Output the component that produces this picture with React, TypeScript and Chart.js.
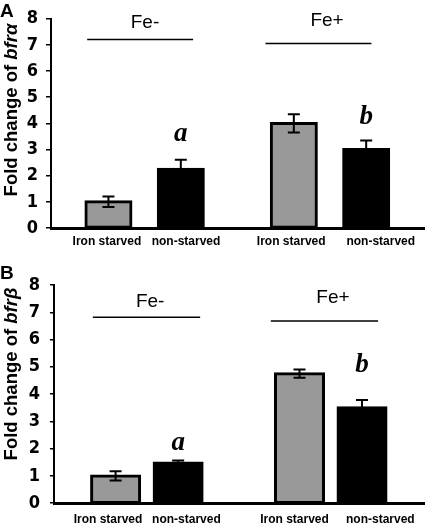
import React, { useEffect, useRef } from 'react';
import { Chart, registerables } from 'chart.js';

Chart.register(...registerables);

// ---------- data ----------
const groups = ['Fe-', 'Fe+'];
const conditions = ['Iron starved', 'non-starved'];
const yTickValues = [0, 1, 2, 3, 4, 5, 6, 7, 8];

// Panel A: bfrα
const alphaIronStarved = [1.0, 4.0];
const alphaNonStarved = [2.25, 3.0];
const alphaIronStarvedErr = [0.2, 0.35];
const alphaNonStarvedErr = [0.36, 0.35];
const alphaLetters = ['a', 'b'];

// Panel B: bfrβ
const betaIronStarved = [1.0, 4.75];
const betaNonStarved = [1.47, 3.5];
const betaIronStarvedErr = [0.17, 0.15];
const betaNonStarvedErr = [0.1, 0.28];
const betaLetters = ['a', 'b'];

// ---------- styles ----------
const GRAY = '#999999';
const BLACK = '#000000';
const SANS = '"Liberation Sans", Arial, sans-serif';
const NARROW = '"DejaVu Sans Condensed", "Liberation Sans Narrow", "Liberation Sans", Arial, sans-serif';
const SERIF = '"Liberation Serif", "Times New Roman", serif';

type PanelCfg = {
  letter: string;
  gene: string;
  iron: number[];
  non: number[];
  ironErr: number[];
  nonErr: number[];
  letters: string[];
  top: number;
  height: number;
  padTop: number;
  axisLeft: number;
  xAxisHeight: number;
  barThickness: number;
  groupCenters: number[];
  barOffset: number;
  labelCenters: number[];
  labelOffsets: number[];
  yTickPadding: number;
  yTickLength: number;
  xTickPadding: number;
  groupLabelY: number[];
  groupLineY: number[];
  groupLineX: number[];
  groupLineHalf: number;
  groupLabelX: number[];
  letterY: number[];
  titleY: number;
};

const panels: PanelCfg[] = [
  {
    letter: 'A',
    gene: 'bfrα',
    iron: alphaIronStarved,
    non: alphaNonStarved,
    ironErr: alphaIronStarvedErr,
    nonErr: alphaNonStarvedErr,
    letters: alphaLetters,
    top: 0,
    height: 262,
    padTop: 15,
    axisLeft: 51,
    xAxisHeight: 34,
    barThickness: 45,
    groupCenters: [2.51, 7.48],
    barOffset: 0.97,
    labelCenters: [2.56, 7.64],
    labelOffsets: [1.06, 1.2],
    yTickPadding: 8,
    yTickLength: 5,
    xTickPadding: 6,
    groupLabelY: [7.83, 7.91],
    groupLineY: [7.21, 7.06],
    groupLineX: [2.39, 7.17],
    groupLineHalf: 1.42,
    groupLabelX: [2.52, 7.4],
    letterY: [3.61, 4.25],
    titleY: 110,
  },
  {
    letter: 'B',
    gene: 'bfrβ',
    iron: betaIronStarved,
    non: betaNonStarved,
    ironErr: betaIronStarvedErr,
    nonErr: betaNonStarvedErr,
    letters: betaLetters,
    top: 262,
    height: 262,
    padTop: 23,
    axisLeft: 54,
    xAxisHeight: 20,
    barThickness: 48,
    groupCenters: [2.51, 7.48],
    barOffset: 0.845,
    labelCenters: [2.52, 7.66],
    labelOffsets: [1.06, 1.16],
    yTickPadding: 10,
    yTickLength: 4,
    xTickPadding: 9,
    groupLabelY: [7.37, 7.55],
    groupLineY: [6.82, 6.68],
    groupLineX: [2.5, 7.31],
    groupLineHalf: 1.45,
    groupLabelX: [2.6, 7.54],
    letterY: [2.22, 5.07],
    titleY: 112,
  },
];

const errorBarPlugin = {
  id: 'errorBars',
  afterDatasetsDraw(chart: any) {
    const ctx = chart.ctx;
    const yScale = chart.scales.y;
    chart.data.datasets.forEach((ds: any, di: number) => {
      const meta = chart.getDatasetMeta(di);
      meta.data.forEach((el: any, i: number) => {
        const v = ds.data[i].y;
        const e = ds.errors[i];
        const yTop = yScale.getPixelForValue(v + e);
        const yBot = yScale.getPixelForValue(v - e);
        const x = el.x;
        ctx.save();
        ctx.strokeStyle = BLACK;
        ctx.lineWidth = 2;
        ctx.beginPath();
        ctx.moveTo(x, yTop);
        ctx.lineTo(x, yBot);
        ctx.moveTo(x - 6, yTop);
        ctx.lineTo(x + 6, yTop);
        ctx.moveTo(x - 6, yBot);
        ctx.lineTo(x + 6, yBot);
        ctx.stroke();
        ctx.restore();
      });
    });
  },
};

const annotationPlugin = {
  id: 'panelAnnotations',
  afterDraw(chart: any, _args: any, opts: any) {
    const cfg: PanelCfg = opts.cfg;
    const ctx = chart.ctx;
    const xs = chart.scales.x;
    const ys = chart.scales.y;
    ctx.save();
    ctx.fillStyle = BLACK;
    ctx.strokeStyle = BLACK;

    // panel letter
    ctx.font = `bold 19px ${SANS}`;
    ctx.textAlign = 'left';
    ctx.textBaseline = 'middle';
    ctx.fillText(cfg.letter, 0, 12);

    // group labels and lines
    groups.forEach((g, gi) => {
      ctx.font = `19px ${SANS}`;
      ctx.textAlign = 'center';
      ctx.textBaseline = 'middle';
      ctx.fillText(g, xs.getPixelForValue(cfg.groupLabelX[gi]), ys.getPixelForValue(cfg.groupLabelY[gi]));
      ctx.lineWidth = 1.5;
      ctx.beginPath();
      const ly = ys.getPixelForValue(cfg.groupLineY[gi]);
      ctx.moveTo(xs.getPixelForValue(cfg.groupLineX[gi] - cfg.groupLineHalf), ly);
      ctx.lineTo(xs.getPixelForValue(cfg.groupLineX[gi] + cfg.groupLineHalf), ly);
      ctx.stroke();
    });

    // significance letters over non-starved bars
    const nonMeta = chart.getDatasetMeta(1);
    cfg.letters.forEach((l, gi) => {
      ctx.font = `italic bold 27px ${SERIF}`;
      ctx.textAlign = 'center';
      ctx.textBaseline = 'middle';
      ctx.fillText(l, nonMeta.data[gi].x, ys.getPixelForValue(cfg.letterY[gi]));
    });

    // y-axis title with italic gene name
    const main = 'Fold change of ';
    const size = 18.5;
    ctx.translate(12, cfg.titleY);
    ctx.rotate(-Math.PI / 2);
    ctx.textBaseline = 'middle';
    ctx.textAlign = 'left';
    ctx.font = `bold ${size}px ${SANS}`;
    const w1 = ctx.measureText(main).width;
    ctx.font = `italic bold ${size}px ${SANS}`;
    const w2 = ctx.measureText(cfg.gene).width;
    const start = -(w1 + w2) / 2;
    ctx.font = `bold ${size}px ${SANS}`;
    ctx.fillText(main, start, 0);
    ctx.font = `italic bold ${size}px ${SANS}`;
    ctx.fillText(cfg.gene, start + w1, 0);
    ctx.restore();
  },
};

function Panel({ cfg }: { cfg: PanelCfg }) {
  const ref = useRef<HTMLCanvasElement>(null);
  useEffect(() => {
    if (!ref.current) return;
    const posIron = cfg.groupCenters.map((c) => c - cfg.barOffset);
    const posNon = cfg.groupCenters.map((c) => c + cfg.barOffset);
    const tickPositions: number[] = [];
    const tickLabels: string[] = [];
    cfg.labelCenters.forEach((c, gi) => {
      tickPositions.push(c - cfg.labelOffsets[gi], c + cfg.labelOffsets[gi]);
      tickLabels.push(conditions[0], conditions[1]);
    });
    const chart = new Chart(ref.current, {
      type: 'bar',
      data: {
        datasets: [
          {
            label: conditions[0],
            data: cfg.iron.map((v, i) => ({ x: posIron[i], y: v })),
            errors: cfg.ironErr,
            backgroundColor: GRAY,
            borderColor: BLACK,
            borderWidth: 3,
            borderSkipped: false,
            inflateAmount: 1.5,
            barThickness: cfg.barThickness,
          } as any,
          {
            label: conditions[1],
            data: cfg.non.map((v, i) => ({ x: posNon[i], y: v })),
            errors: cfg.nonErr,
            backgroundColor: BLACK,
            borderColor: BLACK,
            borderWidth: 3,
            borderSkipped: false,
            inflateAmount: 1.5,
            barThickness: cfg.barThickness,
          } as any,
        ],
      },
      options: {
        responsive: false,
        animation: false,
        events: [],
        layout: { padding: { top: cfg.padTop, right: 1, left: 0, bottom: 0 } },
        datasets: { bar: { grouped: false } } as any,
        plugins: {
          legend: { display: false },
          tooltip: { enabled: false },
          panelAnnotations: { cfg },
        } as any,
        scales: {
          x: {
            type: 'linear',
            min: 0,
            max: 10,
            offset: false,
            grid: { display: false, drawTicks: false },
            border: { display: true, color: BLACK, width: 3 },
            afterBuildTicks: (s: any) => {
              s.ticks = tickPositions.map((v) => ({ value: v }));
            },
            afterFit: (s: any) => {
              s.height = cfg.xAxisHeight;
            },
            ticks: {
              autoSkip: false,
              maxRotation: 0,
              minRotation: 0,
              padding: cfg.xTickPadding,
              color: BLACK,
              font: { family: SANS, size: 12, weight: 'bold' },
              callback: (_v: any, i: number) => tickLabels[i],
            },
          } as any,
          y: {
            min: 0,
            max: 8,
            afterBuildTicks: (s: any) => {
              s.ticks = yTickValues.map((v) => ({ value: v }));
            },
            afterFit: (s: any) => {
              s.width = cfg.axisLeft;
            },
            grid: {
              display: true,
              drawOnChartArea: false,
              drawTicks: true,
              tickLength: cfg.yTickLength,
              color: BLACK,
              lineWidth: 1.5,
            },
            border: { display: true, color: BLACK, width: 2 },
            ticks: {
              padding: cfg.yTickPadding,
              color: BLACK,
              font: { family: NARROW, size: 18, weight: 'bold' },
              callback: (v: any) => String(v),
            },
          } as any,
        },
      },
      plugins: [errorBarPlugin, annotationPlugin],
    });
    return () => chart.destroy();
  }, [cfg]);
  return (
    <canvas
      ref={ref}
      width={425}
      height={cfg.height}
      style={{ position: 'absolute', left: 0, top: cfg.top, width: 425, height: cfg.height }}
    />
  );
}

export default function App() {
  return (
    <div style={{ position: 'fixed', left: 0, top: 0, width: 425, height: 524, background: '#fff' }}>
      {panels.map((p) => (
        <Panel key={p.letter} cfg={p} />
      ))}
    </div>
  );
}
